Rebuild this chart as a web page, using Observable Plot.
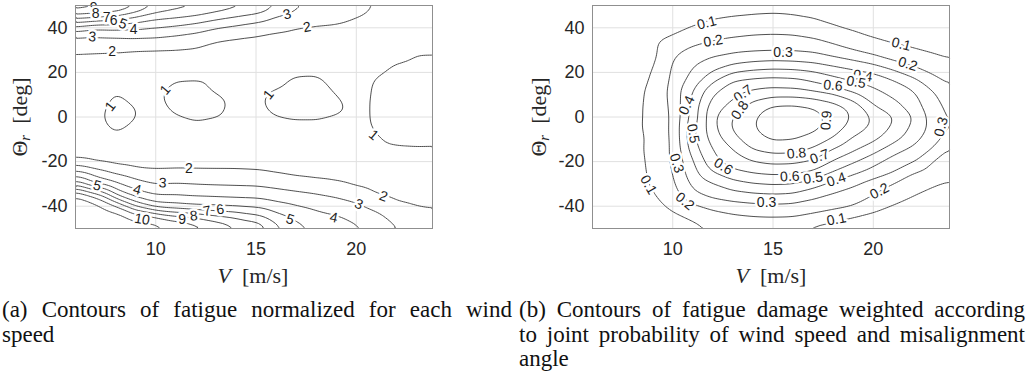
<!DOCTYPE html>
<html>
<head>
<meta charset="utf-8">
<script src="https://cdn.jsdelivr.net/npm/d3@7"></script>
<script src="https://cdn.jsdelivr.net/npm/@observablehq/plot@0.6"></script>
<style>
  html, body { margin: 0; padding: 0; background: #fff; }
  body { width: 1030px; height: 379px; position: relative; overflow: hidden; font-family: "Liberation Sans", Arial, sans-serif; }
  .panel { position: absolute; top: 0; }
  .xl { position: absolute; font-family: "Liberation Serif", serif; font-size: 22px; color: #262626; white-space: nowrap; transform: translate(-50%, -50%); }
  .yl { position: absolute; font-family: "Liberation Serif", serif; font-size: 22px; color: #262626; white-space: nowrap; transform: translate(-50%, -50%) rotate(-90deg); }
  .yl sub { font-style: italic; font-size: 15px; vertical-align: -3px; }
  .cap { position: absolute; font-family: "Liberation Serif", serif; font-size: 23px; line-height: 24.5px; color: #111; }
  .j { text-align: justify; text-align-last: justify; }
</style>
</head>
<body>
<div id="pa" class="panel" style="left:0px"></div>
<div id="pb" class="panel" style="left:515px"></div>

<div class="xl" style="left:253px; top:276px"><i>V</i>&nbsp;&nbsp;[m/s]</div>
<div class="xl" style="left:771px; top:276px"><i>V</i>&nbsp;&nbsp;[m/s]</div>
<div class="yl" style="left:20px; top:117px">Θ<sub>r</sub>&nbsp;&nbsp;[deg]</div>
<div class="yl" style="left:539px; top:117px">Θ<sub>r</sub>&nbsp;&nbsp;[deg]</div>

<div class="cap" style="left:2px; top:298px; width:510px">
  <div class="j">(a) Contours of fatigue normalized for each wind</div>
  <div>speed</div>
</div>
<div class="cap" style="left:519px; top:298px; width:506px">
  <div class="j">(b) Contours of fatigue damage weighted according</div>
  <div class="j">to joint probability of wind speed and misalignment</div>
  <div>angle</div>
</div>

<script>
// Grid of wind speeds (columns) and misalignment angles (rows)
const windSpeeds = [6, 7, 8, 9, 10, 11, 12, 13, 14, 15, 16, 17, 18, 19, 20, 21, 22, 23, 24];
const misalignment = [50, 45, 40, 35, 30, 25, 20, 15, 10, 5, 0, -5, -10, -15, -20, -25, -30, -35, -40, -45, -50];

// (a) normalized fatigue, one row per misalignment angle
const fatigueNormalized = [
  [10, 9.6, 9.4, 8.5, 7.2, 6.6, 6.3, 5.85, 5.45, 5.15, 4.1, 3.2, 2.9, 2.7, 2.45, 1.92, 1.75, 1.65, 1.6],
  [7.5, 7.3, 6.98, 6.02, 5.35, 5.15, 4.85, 4.4, 3.99, 3.6, 2.95, 2.6, 2.4, 2.3, 2.02, 1.7, 1.6, 1.55, 1.5],
  [4.67, 4.05, 4.2, 4.22, 3.98, 3.75, 3.45, 3.01, 2.75, 2.5, 2.2, 1.99, 1.9, 1.85, 1.7, 1.55, 1.5, 1.45, 1.4],
  [2.72, 2.75, 2.8, 2.9, 2.885, 2.7, 2.5, 2.12, 1.95, 1.85, 1.75, 1.7, 1.65, 1.6, 1.55, 1.45, 1.4, 1.3, 1.25],
  [2.16, 2.125, 2.1, 1.99, 1.95, 1.96, 1.9, 1.65, 1.6, 1.55, 1.5, 1.45, 1.45, 1.45, 1.4, 1.35, 1.25, 1.05, 1.04],
  [1.75, 1.7, 1.65, 1.6, 1.6, 1.55, 1.5, 1.4, 1.35, 1.3, 1.3, 1.3, 1.3, 1.3, 1.3, 1.15, 1.005, 0.93, 0.93],
  [1.5, 1.45, 1.4, 1.35, 1.35, 1.2, 1.2, 1.15, 1.12, 1.1, 1.08, 1.05, 1.03, 1.1, 1.12, 1.03, 0.92, 0.9, 0.9],
  [1.35, 1.3, 1.12, 1.2, 1.15, 0.93, 0.9, 1.1, 1.15, 1.15, 1.08, 0.9, 0.9, 1.1, 1.15, 0.95, 0.9, 0.88, 0.88],
  [1.3, 1.25, 0.97, 1.12, 1.05, 0.88, 0.85, 0.98, 1.1, 1.08, 0.93, 0.85, 0.85, 1.005, 1.12, 0.95, 0.9, 0.88, 0.88],
  [1.25, 1.15, 0.88, 1.01, 1.1, 0.9, 0.85, 0.9, 1.08, 1.08, 0.88, 0.85, 0.85, 0.92, 1.1, 0.95, 0.9, 0.88, 0.9],
  [1.2, 1.1, 0.84, 0.98, 1.15, 1.02, 0.93, 0.98, 1.08, 1.1, 1.01, 0.95, 0.96, 1.02, 1.1, 0.95, 0.92, 0.9, 0.92],
  [1.25, 1.15, 0.92, 1.08, 1.25, 1.2, 1.1, 1.15, 1.15, 1.2, 1.15, 1.12, 1.1, 1.12, 1.1, 0.97, 0.93, 0.92, 0.93],
  [1.3, 1.3, 1.1, 1.25, 1.3, 1.3, 1.25, 1.25, 1.25, 1.25, 1.2, 1.2, 1.18, 1.15, 1.08, 1.02, 0.95, 0.94, 0.95],
  [1.4, 1.45, 1.4, 1.45, 1.4, 1.35, 1.35, 1.35, 1.35, 1.35, 1.3, 1.3, 1.25, 1.2, 1.1, 1.05, 1.03, 1.02, 1.02],
  [2.3, 1.9, 1.7, 1.6, 1.6, 1.6, 1.6, 1.6, 1.6, 1.55, 1.5, 1.45, 1.45, 1.4, 1.35, 1.3, 1.25, 1.2, 1.2],
  [4.36, 3.57, 2.86, 2.4, 2.23, 2.29, 2.27, 2.25, 2.24, 2.19, 1.99, 1.8, 1.7, 1.65, 1.6, 1.5, 1.45, 1.4, 1.4],
  [6.5, 4.81, 4.12, 3.43, 2.93, 3.01, 2.93, 2.88, 2.85, 2.82, 2.67, 2.49, 2.33, 2.14, 1.85, 1.7, 1.6, 1.55, 1.5],
  [10.2, 8.67, 5.99, 4.55, 3.99, 4.01, 3.9, 3.8, 3.73, 3.68, 3.45, 3.25, 3.07, 2.86, 2.54, 2.01, 1.8, 1.75, 1.7],
  [10.6, 10.4, 9.33, 6.99, 5.5, 5.25, 4.99, 5.01, 4.92, 4.82, 4.4, 4.07, 3.79, 3.5, 3.2, 2.71, 2.18, 1.99, 1.9],
  [10.9, 10.8, 10.5, 9.8, 9.375, 8.53, 8.14, 7.43, 6.99, 6.39, 5.4, 4.73, 4.33, 4.12, 3.7, 3.3, 2.6, 2.35, 2.25],
  [11.2, 11.1, 10.9, 10.5, 10.5, 10.1, 9.5, 8.99, 8.2, 7.98, 6.4, 5.4, 4.85, 4.6, 4.2, 3.8, 3.1, 2.75, 2.6]
];

// (b) probability-weighted fatigue damage, one row per misalignment angle
const damageWeighted = [
  [0.0, 0.005, 0.01, 0.02, 0.03, 0.045, 0.06, 0.075, 0.082, 0.085, 0.083, 0.075, 0.065, 0.055, 0.045, 0.035, 0.03, 0.025, 0.02],
  [0.005, 0.01, 0.02, 0.035, 0.05, 0.07, 0.09, 0.097, 0.101, 0.103, 0.099, 0.092, 0.08, 0.068, 0.058, 0.048, 0.04, 0.032, 0.025],
  [0.01, 0.02, 0.035, 0.055, 0.08, 0.105, 0.13, 0.145, 0.155, 0.16, 0.155, 0.135, 0.105, 0.085, 0.07, 0.058, 0.048, 0.04, 0.033],
  [0.02, 0.035, 0.055, 0.08, 0.11, 0.15, 0.19, 0.21, 0.225, 0.23, 0.225, 0.205, 0.17, 0.135, 0.101, 0.08, 0.065, 0.055, 0.045],
  [0.03, 0.045, 0.06, 0.075, 0.17, 0.23, 0.255, 0.275, 0.285, 0.29, 0.29, 0.28, 0.24, 0.195, 0.16, 0.13, 0.108, 0.09, 0.075],
  [0.035, 0.05, 0.065, 0.08, 0.205, 0.28, 0.33, 0.365, 0.39, 0.402, 0.395, 0.38, 0.345, 0.31, 0.26, 0.198, 0.16, 0.125, 0.103],
  [0.04, 0.055, 0.075, 0.098, 0.215, 0.315, 0.41, 0.498, 0.53, 0.545, 0.54, 0.515, 0.47, 0.43, 0.402, 0.33, 0.25, 0.185, 0.14],
  [0.045, 0.06, 0.07, 0.11, 0.225, 0.36, 0.51, 0.63, 0.655, 0.665, 0.655, 0.61, 0.56, 0.515, 0.47, 0.43, 0.36, 0.25, 0.18],
  [0.045, 0.06, 0.075, 0.12, 0.235, 0.41, 0.598, 0.68, 0.735, 0.765, 0.765, 0.745, 0.71, 0.62, 0.55, 0.48, 0.42, 0.315, 0.195],
  [0.035, 0.05, 0.07, 0.13, 0.22, 0.44, 0.65, 0.73, 0.85, 0.915, 0.92, 0.895, 0.84, 0.77, 0.598, 0.535, 0.44, 0.34, 0.25],
  [0.035, 0.05, 0.068, 0.13, 0.21, 0.44, 0.68, 0.81, 0.89, 0.95, 0.965, 0.94, 0.87, 0.79, 0.69, 0.61, 0.505, 0.355, 0.265],
  [0.035, 0.05, 0.07, 0.135, 0.21, 0.48, 0.67, 0.815, 0.895, 0.955, 0.965, 0.93, 0.855, 0.76, 0.68, 0.58, 0.475, 0.365, 0.27],
  [0.035, 0.05, 0.07, 0.12, 0.21, 0.48, 0.64, 0.77, 0.86, 0.915, 0.905, 0.86, 0.79, 0.68, 0.62, 0.54, 0.44, 0.33, 0.24],
  [0.035, 0.05, 0.07, 0.125, 0.21, 0.45, 0.598, 0.69, 0.802, 0.83, 0.825, 0.78, 0.685, 0.61, 0.535, 0.43, 0.37, 0.29, 0.15],
  [0.03, 0.045, 0.065, 0.12, 0.21, 0.39, 0.57, 0.655, 0.695, 0.725, 0.72, 0.69, 0.59, 0.51, 0.43, 0.36, 0.31, 0.185, 0.14],
  [0.03, 0.045, 0.065, 0.115, 0.195, 0.36, 0.498, 0.57, 0.605, 0.62, 0.615, 0.58, 0.49, 0.42, 0.36, 0.302, 0.195, 0.15, 0.12],
  [0.025, 0.04, 0.06, 0.11, 0.18, 0.32, 0.39, 0.46, 0.495, 0.51, 0.502, 0.445, 0.37, 0.32, 0.25, 0.19, 0.14, 0.105, 0.085],
  [0.02, 0.035, 0.05, 0.09, 0.16, 0.28, 0.33, 0.36, 0.38, 0.39, 0.38, 0.33, 0.285, 0.245, 0.202, 0.15, 0.101, 0.08, 0.065],
  [0.015, 0.025, 0.04, 0.07, 0.12, 0.18, 0.23, 0.255, 0.27, 0.275, 0.27, 0.25, 0.23, 0.205, 0.14, 0.09, 0.07, 0.055, 0.045],
  [0.01, 0.02, 0.03, 0.05, 0.08, 0.11, 0.15, 0.18, 0.195, 0.203, 0.202, 0.17, 0.13, 0.09, 0.07, 0.055, 0.045, 0.035, 0.03],
  [0.005, 0.01, 0.02, 0.03, 0.05, 0.075, 0.095, 0.11, 0.115, 0.105, 0.09, 0.07, 0.06, 0.05, 0.04, 0.035, 0.03, 0.025, 0.02]
];

const levelsA = [1, 2, 3, 4, 5, 6, 7, 8, 9, 10];
const levelsB = [0.1, 0.2, 0.3, 0.4, 0.5, 0.6, 0.7, 0.8, 0.9];
const xTicks = [10, 15, 20];
const yTicks = [-40, -20, 0, 20, 40];

// Contour labels (a)
const labelA_V = [6.91, 7.0, 7.55, 7.9, 8.37, 8.9, 6.83, 7.83, 16.55, 17.55, 7.74, 10.48, 15.63, 20.87, 11.65, 10.35, 9.07, 7.08, 9.32, 11.32, 11.9, 12.56, 13.22, 16.7, 18.87, 20.12, 21.36];
const labelA_theta = [48.9, 46.2, 44.4, 43.3, 41.8, 39.3, 35.9, 29.3, 46, 40.3, 4.7, 12.2, 10, -8.1, -22.9, -29.6, -32.6, -30.8, -45.9, -45.9, -44.4, -42.2, -41.5, -45.9, -45.2, -39.2, -35.6];
const labelA_text = ["9", "8", "7", "6", "5", "4", "3", "2", "3", "2", "1", "1", "1", "1", "2", "3", "4", "5", "10", "9", "8", "7", "6", "5", "4", "3", "2"];
const labelA_angle = [0, 0, 0, 0, 20, 0, 5, 0, -15, -10, -52, -50, -52, 40, 0, 3, 15, 15, 10, 0, -5, -10, -8, 18, 12, 22, 20];

// Contour labels (b)
const labelB_V = [11.69, 12.02, 15.5, 21.39, 21.72, 19.48, 19.15, 17.99, 13.51, 13.35, 17.66, 10.7, 11.02, 10.2, 8.79, 10.61, 12.52, 14.68, 15.84, 17.0, 18.16, 16.17, 17.33, 20.31, 18.16, 23.38];
const labelB_theta = [42.2, 34.1, 28.9, 32.6, 23.7, 18.5, 15.6, 14.1, 10.4, 3, -1.5, 5.2, -7.4, -20.7, -30.4, -37.8, -22.2, -38.5, -26.7, -27.4, -28.1, -16.3, -17.8, -33.3, -45.9, -4.4];
const labelB_text = ["0.1", "0.2", "0.3", "0.1", "0.2", "0.4", "0.5", "0.6", "0.7", "0.8", "0.9", "0.4", "0.5", "0.3", "0.1", "0.2", "0.6", "0.3", "0.6", "0.5", "0.4", "0.8", "0.7", "0.2", "0.1", "0.3"];
const labelB_angle = [-15, -9, 0, 14, 17, 9, 10, 5, -35, -55, -85, -65, 80, 72, 60, 40, 33, 0, -3, -8, -18, -5, -20, -28, -11, -75];

function grid(rows) {
  const pts = [];
  misalignment.forEach((t, i) => windSpeeds.forEach((v, j) => pts.push({V: v, theta: t, value: rows[i][j]})));
  return pts;
}
function labels(vs, ts, txt, ang) {
  return vs.map((v, i) => ({V: v, theta: ts[i], text: txt[i], angle: ang[i]}));
}

function chart(rows, thresholds, lab, marginLeft) {
  const W = 515, plotW = 357;
  return Plot.plot({
    width: W,
    height: 290,
    marginLeft,
    marginRight: W - marginLeft - plotW,
    marginTop: 5,
    marginBottom: 62,
    style: {fontSize: "18px", fontFamily: "'Liberation Sans', Arial, sans-serif", color: "#262626", background: "white", overflow: "visible"},
    x: {domain: [6, 23.8], ticks: xTicks, tickSize: 0, tickPadding: 14, tickFormat: d => String(d), label: null},
    y: {domain: [-50, 50], ticks: yTicks, tickSize: 0, tickPadding: 8, tickFormat: d => String(d), label: null},
    marks: [
      Plot.ruleX(xTicks, {stroke: "#e0e0e0", strokeWidth: 1}),
      Plot.ruleY(yTicks, {stroke: "#e0e0e0", strokeWidth: 1}),
      Plot.contour(grid(rows), {
        x: "V", y: "theta", value: "value",
        thresholds, interpolate: "barycentric", blur: 2,
        fill: "none", stroke: "#3a3a3a", strokeWidth: 0.9
      }),
      Plot.text(lab, {
        x: "V", y: "theta", text: "text", rotate: "angle",
        fontSize: 14, fill: "#1e1e1e", stroke: "white", strokeWidth: 5,
        fontFamily: "'Liberation Sans', Arial, sans-serif"
      }),
      Plot.frame({stroke: "#8f8f8f", strokeWidth: 1})
    ]
  });
}

document.getElementById("pa").append(chart(fatigueNormalized, levelsA, labels(labelA_V, labelA_theta, labelA_text, labelA_angle), 75));
document.getElementById("pb").append(chart(damageWeighted, levelsB, labels(labelB_V, labelB_theta, labelB_text, labelB_angle), 77));
</script>
</body>
</html>
